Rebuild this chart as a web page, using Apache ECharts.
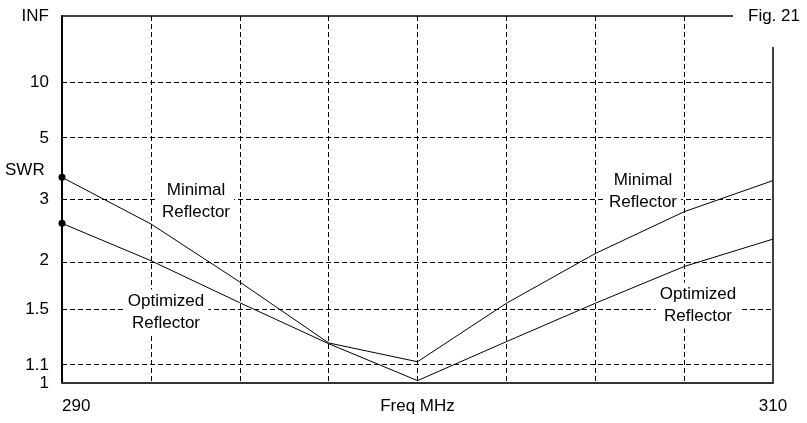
<!DOCTYPE html>
<html><head><meta charset="utf-8">
<script src="https://cdn.jsdelivr.net/npm/echarts@6/dist/echarts.min.js"></script>
<style>html,body{margin:0;padding:0;background:#fff}#c{width:807px;height:423px}</style>
</head><body><div id="c"></div>
<script>
// ---- data ----
const freqs = [290, 292.5, 295, 297.5, 300, 302.5, 305, 307.5, 310];
const swrMinimal = [3.55, 2.53, 1.76, 1.245, 1.123, 1.555, 2.09, 2.75, 3.46];
const swrOptimized = [2.54, 2.00, 1.56, 1.24, 1.013, 1.254, 1.555, 1.93, 2.29];
const yTickSWR = [1, 1.1, 1.5, 2, 3, 5, 10, Infinity];
const yTickLabels = ['1', '1.1', '1.5', '2', '3', '5', '10', 'INF'];
const xTickValues = [290, 300, 310];
const xTickLabels = ['290', 'Freq MHz', '310'];
const noteTexts = ['Minimal\nReflector', 'Optimized\nReflector', 'Minimal\nReflector', 'Optimized\nReflector'];

// SWR -> reflection coefficient (EZNEC style scale)
function rho(s) { return s === Infinity ? 1 : (s - 1) / (s + 1); }

const FONT = "'Liberation Sans', Arial, sans-serif";
const chart = echarts.init(document.getElementById('c'), null, { renderer: 'canvas' });

const yRho = yTickSWR.map(rho);
function yLabel(v) {
  let best = 0, d = 1e9;
  yRho.forEach((r, i) => { if (Math.abs(r - v) < d) { d = Math.abs(r - v); best = i; } });
  return yTickLabels[best];
}
function xLabel(v) {
  const i = xTickValues.findIndex(t => Math.abs(t - v) < 1e-6);
  return i >= 0 ? xTickLabels[i] : '';
}
const gridLineStyle = { color: '#000', width: 1, type: [5, 3] };

const option = {
  animation: false,
  grid: { left: 62, top: 16, right: 34, bottom: 40, containLabel: false },
  xAxis: {
    type: 'value', min: 290, max: 310, interval: 2.5,
    axisLine: { show: true, lineStyle: { color: '#333', width: 2 } },
    axisTick: { show: false },
    axisLabel: {
      show: true, fontSize: 17, color: '#000', fontFamily: FONT, margin: 15,
      formatter: xLabel, showMinLabel: true, showMaxLabel: true, alignMinLabel: 'left'
    },
    splitLine: { show: true, showMinLine: false, showMaxLine: false, lineStyle: gridLineStyle }
  },
  yAxis: {
    type: 'value', min: 0, max: 1,
    axisLine: { show: true, onZero: false, lineStyle: { color: '#000', width: 2 } },
    axisTick: { show: false },
    axisLabel: {
      show: true, customValues: yRho, formatter: yLabel,
      fontSize: 17, color: '#000', fontFamily: FONT, margin: 13
    },
    splitLine: { show: false }
  },
  series: [
    {
      name: 'grid', type: 'line', data: [], z: 1, silent: true,
      markLine: {
        silent: true, symbol: ['none', 'none'], label: { show: false },
        lineStyle: gridLineStyle, animation: false,
        data: yTickSWR.slice(1, -1).map(s => ({ yAxis: rho(s) }))
      }
    },
    {
      name: 'Minimal Reflector', type: 'line', zlevel: 2, z: 3, symbol: 'none',
      lineStyle: { color: '#000', width: 1 },
      data: freqs.map((f, i) => [f, rho(swrMinimal[i])])
    },
    {
      name: 'Optimized Reflector', type: 'line', zlevel: 2, z: 3, symbol: 'none',
      lineStyle: { color: '#000', width: 1 },
      data: freqs.map((f, i) => [f, rho(swrOptimized[i])])
    },
    {
      name: 'start', type: 'scatter', zlevel: 2, z: 4, symbol: 'circle', symbolSize: 7,
      itemStyle: { color: '#000', opacity: 1 },
      data: [[freqs[0], rho(swrMinimal[0])], [freqs[0], rho(swrOptimized[0])]]
    }
  ]
};
chart.setOption(option);

// annotation anchor positions (pixel centres) -> data coords
const notePix = [[196, 201], [166, 312.5], [643, 191.5], [698, 305.5]];
const noteData = notePix.map((p, i) => {
  const d = chart.convertFromPixel({ gridIndex: 0 }, p);
  return { value: d, name: noteTexts[i] };
});
const pTL = chart.convertToPixel({ gridIndex: 0 }, [290, 1]);
const pBR = chart.convertToPixel({ gridIndex: 0 }, [310, 0]);

chart.setOption({
  series: [
    option.series[0], option.series[1], option.series[2], option.series[3],
    {
      name: 'notes', type: 'scatter', zlevel: 1, z: 2, symbolSize: 1, silent: true,
      itemStyle: { color: 'rgba(255,255,255,0)', opacity: 1 },
      data: noteData,
      label: {
        show: true, position: 'inside', formatter: p => p.name,
        fontSize: 17, fontFamily: FONT, color: '#000', lineHeight: 22, opacity: 1,
        backgroundColor: '#ffffff', padding: [1, 4], align: 'center', verticalAlign: 'middle'
      },
      labelLayout: { hideOverlap: false }
    }
  ],
  graphic: {
    zlevel: 2,
    elements: [
      { type: 'line', shape: { x1: pTL[0], y1: pTL[1], x2: pBR[0] - 40, y2: pTL[1] }, style: { stroke: '#000', lineWidth: 1.5 } },
      { type: 'line', shape: { x1: pBR[0], y1: pTL[1] + 31, x2: pBR[0], y2: pBR[1] }, style: { stroke: '#000', lineWidth: 1.5 } },
      { type: 'text', style: { text: 'Fig. 21', x: 748, y: pTL[1], textAlign: 'left', textVerticalAlign: 'middle', font: '17px ' + FONT, fill: '#000' } },
      { type: 'text', style: { text: 'SWR', x: 5, y: 170, textAlign: 'left', textVerticalAlign: 'middle', font: '17px ' + FONT, fill: '#000' } }
    ]
  }
});
</script>
</body></html>
